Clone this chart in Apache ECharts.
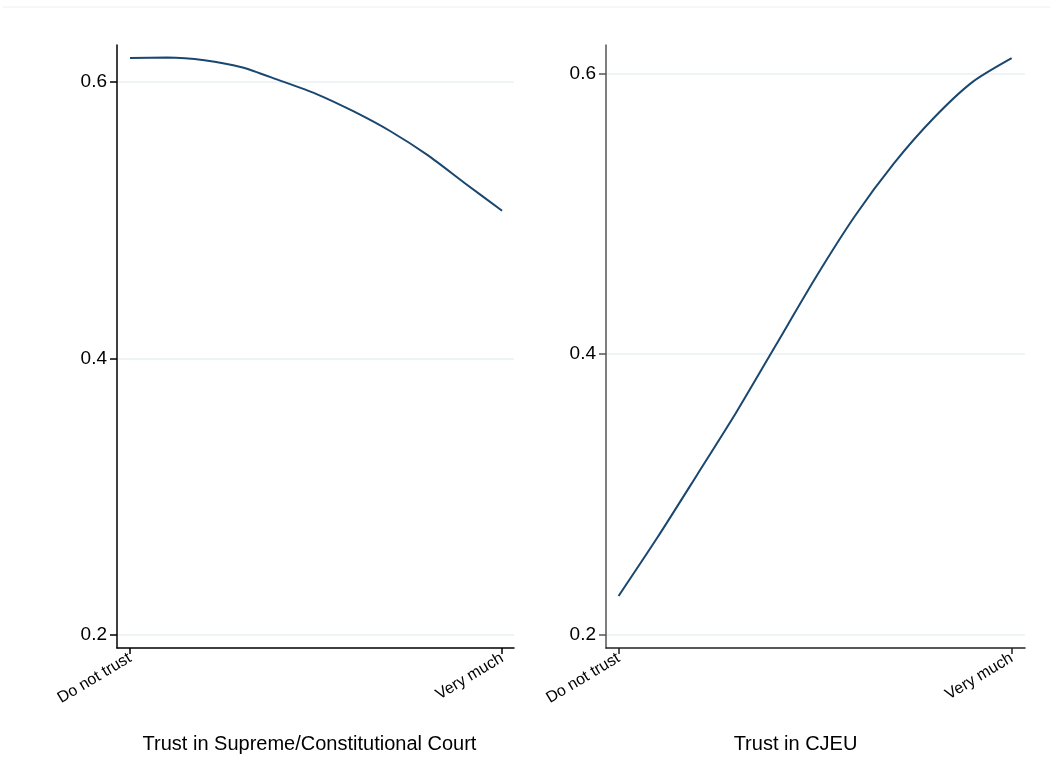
<!DOCTYPE html>
<html>
<head>
<meta charset="utf-8">
<script src="https://cdn.jsdelivr.net/npm/echarts@6/dist/echarts.min.js"></script>
<style>html,body{margin:0;padding:0;background:#fff}#c{width:1050px;height:769px}</style>
</head>
<body>
<div id="c"></div>
<script>
const trustLevels = [0,1,2,3,4,5,6,7,8,9,10];
const xTickValues = [0, 10];
const xTickLabels = ['Do not trust', 'Very much'];
const yTickValues = [0.2, 0.4, 0.6];
const courtValues = [0.6174,0.6177,0.6158,0.6107,0.6014,0.5915,0.5789,0.5644,0.5471,0.5268,0.5069];
const cjeuValues = [0.2276,0.2698,0.3141,0.3588,0.4064,0.4540,0.4980,0.5359,0.5679,0.5940,0.6111];
const panelTitles = ['Trust in Supreme/Constitutional Court', 'Trust in CJEU'];

const font = 'Liberation Sans, Arial, sans-serif';
const lineColor = '#1a476f';

function xAxis(idx, min, max, axisColor, titlePad) {
  return {
    type: 'value', gridIndex: idx, min: min, max: max,
    name: panelTitles[idx], nameLocation: 'middle', nameGap: 86,
    nameTextStyle: {fontFamily: font, fontSize: 20, color: '#000', padding: [0, titlePad, 0, 0]},
    axisLine: {show: true, onZero: false, lineStyle: {color: axisColor, width: 1.5}},
    axisTick: {show: true, length: 6, customValues: xTickValues, lineStyle: {color: axisColor, width: 1.5}},
    axisLabel: {customValues: xTickValues, rotate: 31, margin: 9, fontFamily: font, fontSize: 16, color: '#000',
      formatter: v => xTickLabels[xTickValues.indexOf(v)] || ''},
    splitLine: {show: false}
  };
}
function yAxis(idx, min, max, axisColor) {
  return {
    type: 'value', gridIndex: idx, min: min, max: max,
    axisLine: {show: true, onZero: false, lineStyle: {color: axisColor, width: 1.5}},
    axisTick: {show: true, length: 7, customValues: yTickValues, lineStyle: {color: axisColor, width: 1.5}},
    axisLabel: {customValues: yTickValues, margin: 10, fontFamily: font, fontSize: 19, color: '#000',
      formatter: v => v.toFixed(1)},
    splitLine: {show: true, lineStyle: {color: '#eaf2f3', width: 1.5}}
  };
}

const chart = echarts.init(document.getElementById('c'), null, {renderer: 'canvas'});
chart.setOption({
  backgroundColor: '#fff',
  animation: false,
  graphic: [{type: 'line', shape: {x1: 3, y1: 7, x2: 1050, y2: 7}, style: {stroke: '#eeeeee', lineWidth: 1}}],
  grid: [
    {left: 117, top: 45, width: 397, height: 603},
    {left: 606, top: 45, width: 419, height: 603}
  ],
  xAxis: [xAxis(0, -0.349, 10.32, '#000', 12), xAxis(1, -0.32, 10.34, '#222', 40)],
  yAxis: [yAxis(0, 0.1906, 0.6268, '#000'), yAxis(1, 0.1905, 0.6205, '#555')],
  series: [
    {type: 'line', xAxisIndex: 0, yAxisIndex: 0, showSymbol: false, smooth: 0.25,
      lineStyle: {color: lineColor, width: 2}, data: trustLevels.map((x, i) => [x, courtValues[i]])},
    {type: 'line', xAxisIndex: 1, yAxisIndex: 1, showSymbol: false, smooth: 0.25,
      lineStyle: {color: lineColor, width: 2}, data: trustLevels.map((x, i) => [x, cjeuValues[i]])}
  ]
});
</script>
</body>
</html>
